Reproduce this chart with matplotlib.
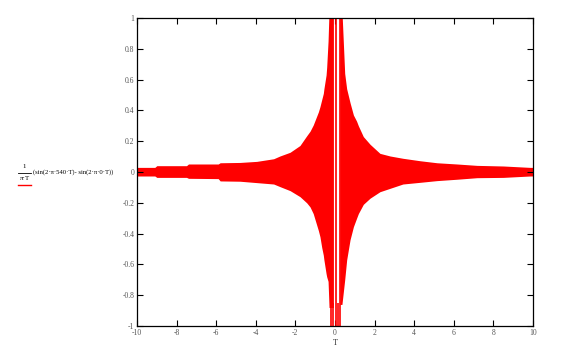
import numpy as np
import matplotlib.pyplot as plt

# envelope of the red band (T, upper, lower)
left_T = [-10.0, -9.1, -9.0, -7.5, -7.4, -5.9, -5.8, -4.8, -3.95, -3.1, -2.78, -2.27, -1.77,
          -1.43, -1.26, -1.1, -0.84, -0.76, -0.67, -0.59, -0.56, -0.45, -0.42,
          -0.35, -0.3, -0.2, -0.08]
left_up = [0.030, 0.030, 0.041, 0.041, 0.052, 0.052, 0.060, 0.062, 0.069, 0.086, 0.104, 0.128, 0.172,
           0.235, 0.265, 0.305, 0.390, 0.424, 0.470, 0.510, 0.540, 0.630, 0.680,
           0.850, 1.05, 1.05, 1.05]
left_lo = [-0.026, -0.026, -0.035, -0.035, -0.041, -0.043, -0.058, -0.060, -0.069, -0.078, -0.095, -0.121, -0.160,
           -0.200, -0.227, -0.270, -0.380, -0.420, -0.490, -0.540, -0.570, -0.660, -0.680,
           -0.710, -0.880, -0.880, -0.880]

right_T = [0.24, 0.35, 0.49, 0.59, 0.76, 0.93, 1.09, 1.18, 1.43, 1.77, 2.27, 2.78,
           3.43, 4.3, 5.15, 6.16, 7.17, 8.5, 9.85, 10.0]
right_up = [1.05, 1.05, 0.640, 0.540, 0.450, 0.370, 0.330, 0.300, 0.230, 0.180, 0.121, 0.104,
            0.089, 0.073, 0.060, 0.052, 0.043, 0.039, 0.030, 0.030]
right_lo = [-0.860, -0.860, -0.700, -0.570, -0.440, -0.355, -0.300, -0.270, -0.210, -0.170, -0.128, -0.106,
            -0.078, -0.067, -0.056, -0.047, -0.037, -0.035, -0.026, -0.026]

# thin vertical strokes near T = 0 (T, bottom, top)
spike_T = [-0.20, -0.12, 0.06, 0.14, 0.25]
spike_lo = [-1.0, -1.0, -1.0, -1.0, -1.0]
spike_hi = [-0.85, -0.85, 1.0, -0.85, 1.0]

x_ticks = [-10, -8, -6, -4, -2, 0, 2, 4, 6, 8, 10]
y_ticks = [-1, -0.8, -0.6, -0.4, -0.2, 0, 0.2, 0.4, 0.6, 0.8, 1]

W, H = 574, 358
fig = plt.figure(figsize=(W / 100, H / 100), dpi=100)
ax = fig.add_axes([137 / W, 1 - 326 / H, (533 - 137) / W, (326 - 18) / H])

red = '#ff0000'
ax.fill_between(left_T, left_lo, left_up, color=red, lw=0, antialiased=False)
ax.fill_between(right_T, right_lo, right_up, color=red, lw=0, antialiased=False)
ax.vlines(spike_T, spike_lo, spike_hi, color=red, lw=1.2)

ax.set_xlim(-10, 10)
ax.set_ylim(-1, 1)
ax.set_xticks(x_ticks)
ax.set_yticks(y_ticks)
ax.set_xticklabels([str(v) for v in x_ticks])
ax.set_yticklabels([('%g' % v) for v in y_ticks])
ax.tick_params(direction='in', length=4, width=0.8, top=True, right=True,
               labelsize=5.5, labelcolor='#555555', pad=2)
for lab in ax.get_xticklabels() + ax.get_yticklabels():
    lab.set_fontfamily('Liberation Serif')
for s in ax.spines.values():
    s.set_linewidth(0.9)

fig.text(335 / W, 1 - 343 / H, 'T', fontsize=6, family='Liberation Serif',
         color='#333333', ha='center', va='center')

# y-axis trace label
fs = 5
fig.text(24.5 / W, 1 - 166.5 / H, '1', fontsize=fs, family='Liberation Serif', ha='center', va='center')
fig.add_artist(plt.Line2D([18 / W, 31 / W], [1 - 172.5 / H] * 2, color='black', lw=0.6))
fig.text(24.5 / W, 1 - 178.5 / H, 'π·T', fontsize=fs, family='Liberation Serif', ha='center', va='center')
fig.text(33 / W, 1 - 172.5 / H, '(sin(2·π·540·T)- sin(2·π·0·T))', fontsize=4.8,
         family='Liberation Serif', ha='left', va='center')
fig.add_artist(plt.Line2D([18 / W, 31 / W], [1 - 185 / H] * 2, color=red, lw=1.0))

fig.savefig('out.png', dpi=100)
